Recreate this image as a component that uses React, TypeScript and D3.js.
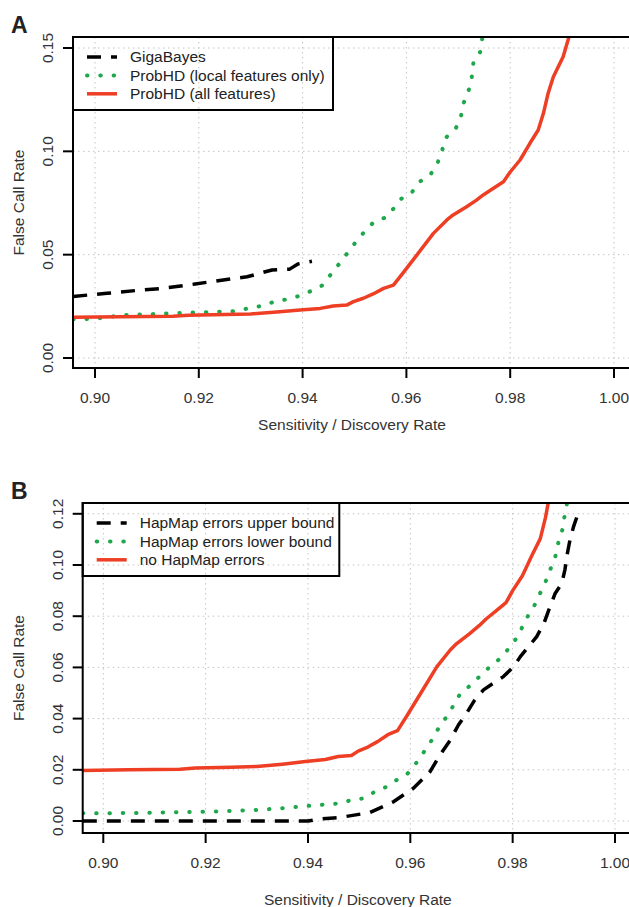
import React from 'react';
import * as d3 from 'd3';

// ticks
const xTicks = [0.9, 0.92, 0.94, 0.96, 0.98, 1.0];
const yTicksA = [0, 0.05, 0.1, 0.15];
const yTicksB = [0, 0.02, 0.04, 0.06, 0.08, 0.1, 0.12];

// panel A series (sensitivity, false call rate)
const gigaBayes: [number, number][] = [
  [0.8958, 0.0298], [0.9023, 0.0313], [0.9077, 0.0326], [0.9131, 0.0337], [0.9193, 0.0358],
  [0.9237, 0.0374], [0.9293, 0.0393], [0.9341, 0.0426], [0.9375, 0.043], [0.9391, 0.0455],
  [0.9418, 0.0468],
];

const probHDLocal: [number, number][] = [
  [0.8958, 0.0188], [0.9, 0.019], [0.9055, 0.0208], [0.9109, 0.0212], [0.9163, 0.0218],
  [0.9216, 0.0222], [0.927, 0.0227], [0.9295, 0.024], [0.9321, 0.0252], [0.9344, 0.0271],
  [0.9369, 0.0284], [0.9395, 0.0301], [0.9416, 0.0324], [0.9437, 0.035], [0.9453, 0.04],
  [0.947, 0.0454], [0.9486, 0.0507], [0.9502, 0.056], [0.952, 0.0614], [0.9538, 0.066],
  [0.956, 0.068], [0.9576, 0.0725], [0.959, 0.077], [0.961, 0.08], [0.9626, 0.0853],
  [0.9647, 0.089], [0.966, 0.0943], [0.9669, 0.1006], [0.9676, 0.1066], [0.9695, 0.111],
  [0.9705, 0.1168], [0.971, 0.1232], [0.972, 0.1295], [0.9726, 0.136], [0.9729, 0.1426],
  [0.9742, 0.148], [0.9747, 0.156],
];

// ProbHD (all features) == no HapMap errors, same curve in both panels
const probHDAll: [number, number][] = [
  [0.8958, 0.0197], [0.905, 0.02], [0.915, 0.0202], [0.918, 0.0207], [0.925, 0.021],
  [0.93, 0.0213], [0.935, 0.0222], [0.9395, 0.0232], [0.9434, 0.024], [0.9459, 0.0252],
  [0.9485, 0.0256], [0.9498, 0.0273], [0.9517, 0.0289], [0.9536, 0.031], [0.9556, 0.0337],
  [0.9575, 0.0353], [0.9594, 0.0413], [0.962, 0.0498], [0.9652, 0.0603], [0.9678, 0.0668],
  [0.969, 0.0692], [0.9716, 0.0732], [0.9735, 0.0764], [0.9748, 0.0789], [0.9767, 0.082],
  [0.9787, 0.0853], [0.98, 0.09], [0.9819, 0.0958], [0.9838, 0.1039], [0.9854, 0.1103],
  [0.9864, 0.1184], [0.9873, 0.128], [0.9883, 0.136], [0.9902, 0.1458], [0.9914, 0.156],
];

// panel B series
const hapMapUpper: [number, number][] = [
  [0.896, 0.0], [0.94, 0.0], [0.942, 0.0007], [0.945, 0.0012], [0.9463, 0.0014],
  [0.9521, 0.0033], [0.9567, 0.0075], [0.9606, 0.0128], [0.9638, 0.0191], [0.9658, 0.0258],
  [0.9678, 0.0316], [0.9694, 0.0375], [0.971, 0.0421], [0.9726, 0.0473], [0.9743, 0.0512],
  [0.9762, 0.0538], [0.9782, 0.0564], [0.9802, 0.0603], [0.9815, 0.0642], [0.9831, 0.0681],
  [0.9847, 0.072], [0.9861, 0.0772], [0.9873, 0.0837], [0.9883, 0.0889], [0.9896, 0.0928],
  [0.9902, 0.098], [0.9907, 0.1046], [0.9912, 0.1098], [0.9919, 0.115], [0.9928, 0.1202],
];

const hapMapLower: [number, number][] = [
  [0.896, 0.003], [0.905, 0.0031], [0.92, 0.0036], [0.93, 0.0043], [0.935, 0.005],
  [0.94, 0.0059], [0.9463, 0.0069], [0.9485, 0.0082], [0.9511, 0.0089], [0.9531, 0.0115],
  [0.9554, 0.0134], [0.9573, 0.016], [0.9594, 0.0184], [0.9611, 0.0225], [0.9627, 0.0271],
  [0.9642, 0.0316], [0.9655, 0.0362], [0.967, 0.0405], [0.9684, 0.045], [0.9698, 0.0499],
  [0.9717, 0.0529], [0.9735, 0.0564], [0.9752, 0.0596], [0.9772, 0.0629], [0.9787, 0.0661],
  [0.9803, 0.07], [0.9816, 0.0746], [0.9827, 0.0792], [0.984, 0.0831], [0.9852, 0.0883],
  [0.9863, 0.0928], [0.9873, 0.098], [0.9883, 0.103], [0.9889, 0.1085], [0.9897, 0.1137],
  [0.9901, 0.1186], [0.9907, 0.125],
];

const legendA = ['GigaBayes', 'ProbHD (local features only)', 'ProbHD (all features)'];
const legendB = ['HapMap errors upper bound', 'HapMap errors lower bound', 'no HapMap errors'];

const RED = '#EE3E24';
const GREEN = '#1FA84B';
const FONT = '"Liberation Sans", Arial, Helvetica, sans-serif';

const styles = [
  { stroke: 'black', dash: '14,10', cap: 'butt', width: 3.5 },
  { stroke: GREEN, dash: '0.5,12.8', cap: 'round', width: 4 },
  { stroke: RED, dash: null, cap: 'butt', width: 3.5 },
];

type PanelProps = {
  id: string;
  letter: string;
  series: [number, number][][];
  labels: string[];
  yTicks: number[];
  xPx: [number, number]; // pixel of 0.90 and 1.00
  yPx: [number, number]; // pixel of 0 and top tick
  box: { l: number; r: number; t: number; b: number };
  legendRight: number;
  legendBottom: number;
  titleGap: number;
};

function Panel(p: PanelProps) {
  const x = d3.scaleLinear().domain([0.9, 1.0]).range(p.xPx);
  const yTop = p.yTicks[p.yTicks.length - 1];
  const y = d3.scaleLinear().domain([0, yTop]).range(p.yPx);
  const line = d3.line<[number, number]>().x(d => x(d[0])).y(d => y(d[1]));
  const fmt = d3.format('.2f');
  const { l, r, t, b } = p.box;

  return (
    <g>
      <defs>
        <clipPath id={'clip' + p.id}>
          <rect x={l} y={t} width={r - l} height={b - t} />
        </clipPath>
      </defs>
      {/* grid */}
      <g stroke="#c4c4c4" strokeWidth={1} strokeDasharray="1.5,3.5">
        {xTicks.map(v => <line key={'gx' + v} x1={x(v)} x2={x(v)} y1={t} y2={b} />)}
        {p.yTicks.map(v => <line key={'gy' + v} x1={l} x2={r} y1={y(v)} y2={y(v)} />)}
      </g>
      {/* curves */}
      <g clipPath={`url(#clip${p.id})`} fill="none">
        {p.series.map((s, i) => (
          <path key={i} d={line(s) || ''} stroke={styles[i].stroke} strokeWidth={styles[i].width}
            strokeDasharray={styles[i].dash || undefined} strokeLinecap={styles[i].cap as any}
            strokeLinejoin="round" />
        ))}
      </g>
      {/* box */}
      <rect x={l} y={t} width={r - l} height={b - t} fill="none" stroke="black" strokeWidth={2} />
      {/* x axis */}
      {xTicks.map(v => (
        <g key={'xt' + v}>
          <line x1={x(v)} x2={x(v)} y1={b} y2={b + 10} stroke="black" strokeWidth={2} />
          <text x={x(v)} y={b + 35.3} textAnchor="middle" fontSize={15.5} fill="#333">{fmt(v)}</text>
        </g>
      ))}
      <text x={(l + r) / 2} y={b + p.titleGap} textAnchor="middle" fontSize={15.5} fill="#333">
        Sensitivity / Discovery Rate
      </text>
      {/* y axis */}
      {p.yTicks.map(v => (
        <g key={'yt' + v}>
          <line x1={l - 10} x2={l} y1={y(v)} y2={y(v)} stroke="black" strokeWidth={2} />
          <text transform={`translate(${l - 20},${y(v)}) rotate(-90)`} textAnchor="middle"
            fontSize={15.5} fill="#333">{fmt(v)}</text>
        </g>
      ))}
      <text transform={`translate(24,${(t + b) / 2}) rotate(-90)`} textAnchor="middle"
        fontSize={15.5} fill="#333">False Call Rate</text>
      {/* panel letter */}
      <text x={11} y={t - 4} fontSize={23} fontWeight="bold" fill="#222">{p.letter}</text>
      {/* legend */}
      <rect x={l} y={t} width={p.legendRight - l} height={p.legendBottom - t} fill="none"
        stroke="black" strokeWidth={2} />
      {p.labels.map((lab, i) => {
        const yy = t + 20 + i * 18.4;
        return (
          <g key={lab}>
            <line x1={l + 14} x2={l + 44} y1={yy} y2={yy} stroke={styles[i].stroke}
              strokeWidth={styles[i].width} strokeDasharray={styles[i].dash || undefined}
              strokeLinecap={styles[i].cap as any} />
            <text x={l + 57} y={yy} dy="0.35em" fontSize={15.5} fill="#222">{lab}</text>
          </g>
        );
      })}
    </g>
  );
}

export default function App() {
  return (
    <svg width={629} height={907} style={{ position: 'absolute', left: 0, top: 0, background: 'white' }}
      fontFamily={FONT}>
      <Panel id="A" letter="A" series={[gigaBayes, probHDLocal, probHDAll]} labels={legendA}
        yTicks={yTicksA} xPx={[95, 614]} yPx={[358, 48]}
        box={{ l: 73, r: 631, t: 37, b: 368 }} legendRight={333} legendBottom={110} titleGap={62} />
      <Panel id="B" letter="B" series={[hapMapUpper, hapMapLower, probHDAll]} labels={legendB}
        yTicks={yTicksB} xPx={[103.3, 615]} yPx={[821, 513.8]}
        box={{ l: 82.7, r: 633, t: 503, b: 833 }} legendRight={339.3} legendBottom={576} titleGap={72} />
    </svg>
  );
}
